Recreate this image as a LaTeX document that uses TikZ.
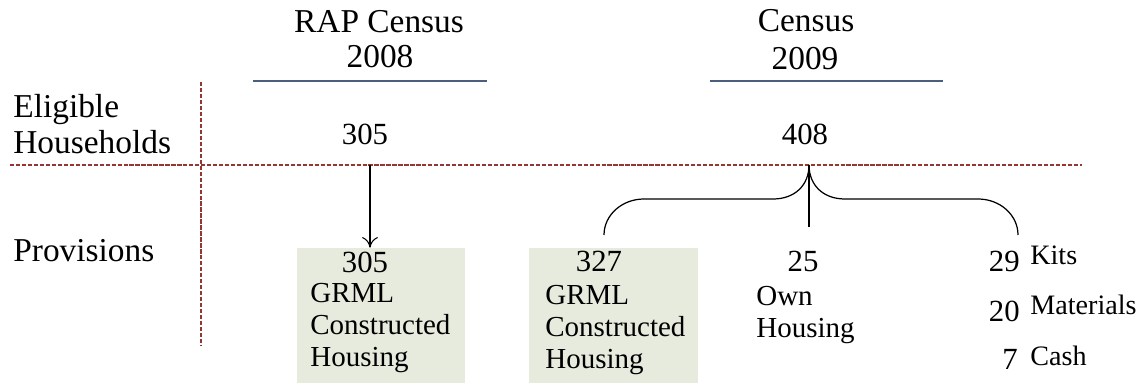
\documentclass[tikz,border=0pt]{standalone}
\usepackage{fontspec}
\setmainfont{Liberation Serif}
\usetikzlibrary{arrows.meta, positioning}

\definecolor{divred}{RGB}{148,54,52}
\definecolor{headblue}{RGB}{75,95,125}
\definecolor{boxgreen}{RGB}{230,235,221}

\begin{document}
\begin{tikzpicture}[
            % Styles
            header/.style={inner sep=0pt, anchor=base, font=\fontsize{19}{21}\selectfont},
            rowlabel/.style={inner sep=0pt, anchor=west, align=left, font=\fontsize{19}{20.5}\selectfont},
            num/.style={inner sep=0pt, anchor=base, font=\fontsize{17.5}{20}\selectfont},
            body/.style={inner sep=0pt, anchor=west, align=left, font=\fontsize{16.5}{18}\selectfont},
            item/.style={inner sep=0pt, anchor=base west, font=\fontsize{16}{18}\selectfont},
            provbox/.style={rectangle, fill=boxgreen, inner sep=0pt, minimum height=2.7cm},
            headline/.style={draw=headblue, line width=1.6pt},
            divider/.style={draw=divred, line width=0.6pt, dash pattern=on 2.4pt off 1pt},
            line/.style={draw, line width=0.6pt, -{To[length=6pt, width=9pt]}},
            brace/.style={draw, line width=0.7pt}
        ]
        \useasboundingbox (0,0) rectangle (22.9,-7.66);

        % Column heads
        \node [header] (rap) at (7.58,-0.66) {RAP Census};
        \node [header] (rapyear) at (7.6,-1.36) {2008};
        \node [header] (census) at (16.12,-0.64) {Census};
        \node [header] (censusyear) at (16.1,-1.40) {2009};
        \path [headline] (5.06,-1.62) -- (9.74,-1.62);
        \path [headline] (14.2,-1.62) -- (18.86,-1.62);

        % Row labels
        \node [rowlabel] (eligible) at (0.26,-2.48) {Eligible\\Households};
        \node [rowlabel, anchor=base west] (provisions) at (0.26,-5.24) {Provisions};

        % Eligible households
        \node [num] (n305) at (7.3,-2.9) {305};
        \node [num] (n408) at (16.1,-2.9) {408};

        % Grid
        \path [divider] (0.2,-3.3) -- (21.64,-3.3);
        \path [divider] (4.02,-1.64) -- (4.02,-6.9);

        % Provisions 2008
        \node [provbox, minimum width=3.36cm] (box1) at (7.62,-6.31) {};
        \node [num] (b305) at (7.3,-5.46) {305};
        \node [body] (grml1) at (6.2,-6.56) {GRML\\Constructed\\Housing};

        % Provisions 2009
        \node [provbox, minimum width=3.38cm] (box2) at (12.27,-6.31) {};
        \node [num] (b327) at (11.98,-5.44) {327};
        \node [body] (grml2) at (10.9,-6.6) {GRML\\Constructed\\Housing};

        \node [num] (n25) at (16.06,-5.44) {25};
        \node [body] (own) at (15.12,-6.3) {Own\\Housing};

        \node [num, anchor=base east] (n29) at (20.4,-5.44) {29};
        \node [item] (kits) at (20.6,-5.3) {Kits};
        \node [num, anchor=base east] (n20) at (20.4,-6.44) {20};
        \node [item] (materials) at (20.6,-6.3) {Materials};
        \node [num, anchor=base east] (n7) at (20.36,-7.4) {7};
        \node [item] (cash) at (20.6,-7.3) {Cash};

        % Edges
        \coordinate (split1) at (7.4,-3.3);
        \coordinate (split2) at (16.18,-3.3);
        \coordinate (legA) at (12.08,-4.7);
        \coordinate (legB) at (16.18,-4.54);
        \coordinate (legC) at (20.36,-4.7);
        \path [line] (split1) -- (split1 |- box1.north);
        \path [brace] (legA) .. controls (12.08,-4.3) and (12.44,-3.98) .. (12.88,-3.98)
            -- (15.46,-3.98) .. controls (15.9,-3.98) and (16.18,-3.7) .. (split2)
            .. controls (16.18,-3.7) and (16.46,-3.98) .. (16.9,-3.98)
            -- (19.56,-3.98) .. controls (20.0,-3.98) and (20.36,-4.3) .. (legC);
        \path [brace] (split2) -- (legB);

    \end{tikzpicture}
\end{document}
